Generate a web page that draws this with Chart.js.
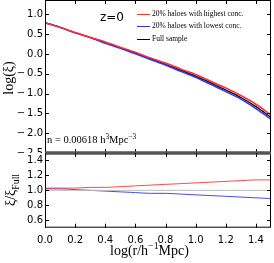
<!DOCTYPE html>
<html>
<head>
<meta charset="utf-8">
<script src="https://cdn.jsdelivr.net/npm/chart.js@4.4.1/dist/chart.umd.min.js"></script>
<style>
  body { margin: 0; background: #fff; }
  #wrap { position: relative; width: 274px; height: 263px; overflow: hidden; }
  canvas { position: absolute; left: 0; }
  .txt { position: absolute; white-space: nowrap; font-family: 'Liberation Serif', 'Times New Roman', serif; color: #000; line-height: 1; }
  .leg { position: absolute; font-family: 'Liberation Serif', serif; font-size: 7.5px; white-space: nowrap; line-height: 1; }
  .leg i { display: inline-block; width: 13px; height: 0; border-top: 1.5px solid; vertical-align: middle; margin-right: 2px; }
  sup, sub { font-size: 70%; line-height: 0; }
  .rot { transform: rotate(-90deg); transform-origin: center center; }
</style>
</head>
<body>
<div id="wrap">
  <canvas id="top-chart" width="274" height="153" style="top:0"></canvas>
  <canvas id="ratio-chart" width="274" height="113" style="top:150px"></canvas>

  <div class="txt" style="left:100px;top:11px;font-family:'DejaVu Sans',sans-serif;font-size:12px;">z=0</div>
  <div class="leg" style="left:137px;top:10px;"><i style="color:#ff3030"></i>20% haloes with highest conc.</div>
  <div class="leg" style="left:137px;top:22px;"><i style="color:#3030ff"></i>20% haloes with lowest conc.</div>
  <div class="leg" style="left:137px;top:35px;"><i style="color:#000"></i>Full sample</div>
  <div class="txt" style="left:47px;top:135px;font-size:10.5px;">n = 0.00618 h<sup>3</sup>Mpc<sup>−3</sup></div>

  <div class="txt rot" style="left:-11px;top:71px;width:40px;text-align:center;font-size:14px;">log(ξ)</div>
  <div class="txt rot" style="left:-17px;top:183px;width:56px;text-align:center;font-size:14px;">ξ/ξ<sub>Full</sub></div>
  <div class="txt" style="left:110px;top:244px;font-size:14px;">log(r/h<sup>−1</sup>Mpc)</div>
</div>

<script>
// valores
const logR = [0.0, 0.1, 0.2, 0.3, 0.4, 0.5, 0.6, 0.7, 0.8, 0.9, 1.0, 1.1, 1.2, 1.3, 1.4, 1.5];
const xiHigh = [0.79, 0.67, 0.54, 0.42, 0.30, 0.17, 0.04, -0.10, -0.23, -0.38, -0.52, -0.69, -0.86, -1.05, -1.27, -1.54];
const xiLow  = [0.79, 0.67, 0.53, 0.41, 0.27, 0.14, 0.00, -0.14, -0.28, -0.44, -0.59, -0.77, -0.95, -1.14, -1.38, -1.65];
const xiFull = [0.79, 0.67, 0.535, 0.415, 0.285, 0.155, 0.02, -0.12, -0.26, -0.41, -0.56, -0.73, -0.91, -1.10, -1.33, -1.60];
const ratioHigh = [1.03, 1.03, 1.03, 1.04, 1.04, 1.05, 1.06, 1.07, 1.08, 1.09, 1.10, 1.11, 1.12, 1.13, 1.14, 1.14];
const ratioLow  = [1.02, 1.02, 1.01, 1.00, 0.99, 0.98, 0.97, 0.96, 0.96, 0.95, 0.94, 0.93, 0.92, 0.91, 0.90, 0.89];
const ratioFull = [1, 1, 1, 1, 1, 1, 1, 1, 1, 1, 1, 1, 1, 1, 1, 1];

const xTicks = [0.0, 0.2, 0.4, 0.6, 0.8, 1.0, 1.2, 1.4];
const yTicksTop = [-2.5, -2.0, -1.5, -1.0, -0.5, 0.0, 0.5, 1.0];
const yTicksRatio = [0.6, 0.8, 1.0, 1.2, 1.4];

function pts(ys) {
    return logR.map((x, i) => ({ x: x, y: ys[i] }));
}

// sinal de menos largo, como no original
function fmt(v) {
    const s = Math.abs(v).toFixed(1);
    return v < 0 ? '\u2212\u2009' + s : s;
}

// moldura com ticks para dentro
const framePlugin = {
    id: 'frame',
    afterDraw(chart, args, opts) {
        const ctx = chart.ctx;
        const a = chart.chartArea;
        const xs = chart.scales.x, ys = chart.scales.y;
        ctx.save();
        ctx.strokeStyle = '#000';
        ctx.lineWidth = 1;
        ctx.strokeRect(a.left + 0.5, a.top + 0.5, a.right - a.left - 1, a.bottom - a.top - 1);
        if (opts.thick) {
            ctx.strokeStyle = '#555';
            ctx.lineWidth = 3.5;
            ctx.beginPath();
            ctx.moveTo(a.left, a.top);
            ctx.lineTo(a.right, a.top);
            ctx.stroke();
        }
        ctx.strokeStyle = '#000';
        ctx.lineWidth = 1;
        ctx.beginPath();
        xTicks.forEach(v => {
            const px = Math.round(xs.getPixelForValue(v)) + 0.5;
            ctx.moveTo(px, a.bottom); ctx.lineTo(px, a.bottom - 4);
            ctx.moveTo(px, a.top); ctx.lineTo(px, a.top + 4);
        });
        opts.yTicks.forEach(v => {
            const py = Math.round(ys.getPixelForValue(v)) + 0.5;
            ctx.moveTo(a.left, py); ctx.lineTo(a.left + 4, py);
            ctx.moveTo(a.right, py); ctx.lineTo(a.right - 4, py);
        });
        ctx.stroke();
        ctx.restore();
    }
};

const tickFont = { family: 'DejaVu Sans', size: 10 };

function noPad(s) {
    s.paddingTop = 0; s.paddingBottom = 0; s.paddingLeft = 0; s.paddingRight = 0;
}

function baseOptions() {
    return {
        responsive: false,
        animation: false,
        events: [],
        plugins: { legend: { display: false }, tooltip: { enabled: false } },
        elements: { point: { radius: 0 }, line: { cubicInterpolationMode: 'monotone' } }
    };
}

// painel de cima
const optTop = baseOptions();
optTop.layout = { padding: { top: 0, right: 3, left: 0, bottom: 0 } };
optTop.plugins.frame = { yTicks: yTicksTop, thick: false };
optTop.scales = {
    x: { type: 'linear', min: 0, max: 1.5, display: false },
    y: {
        min: -2.5, max: 1.36,
        afterFit(s) { s.width = 45; noPad(s); },
        afterBuildTicks(s) { s.ticks = yTicksTop.map(v => ({ value: v })); },
        grid: { display: false, drawTicks: false },
        border: { display: false },
        ticks: { font: tickFont, color: '#000', padding: 2, callback: v => fmt(v) }
    }
};

new Chart(document.getElementById('top-chart').getContext('2d'), {
    type: 'line',
    data: {
        datasets: [
            { label: '20% haloes with highest conc.', data: pts(xiHigh), borderColor: '#ff3030', borderWidth: 1.5 },
            { label: '20% haloes with lowest conc.', data: pts(xiLow), borderColor: '#3030ff', borderWidth: 1.5 },
            { label: 'Full sample', data: pts(xiFull), borderColor: '#000', borderWidth: 1.2 }
        ]
    },
    options: optTop,
    plugins: [framePlugin]
});

// painel da razao
const optRatio = baseOptions();
optRatio.layout = { padding: { top: 3, right: 3, left: 0, bottom: 0 } };
optRatio.plugins.frame = { yTicks: yTicksRatio, thick: true };
optRatio.scales = {
    x: {
        type: 'linear', min: 0, max: 1.5,
        afterFit(s) { s.height = 35.3; noPad(s); },
        afterBuildTicks(s) { s.ticks = xTicks.map(v => ({ value: v })); },
        grid: { display: false, drawTicks: false },
        border: { display: false },
        ticks: { font: tickFont, color: '#000', padding: 7, maxRotation: 0, callback: v => fmt(v) }
    },
    y: {
        min: 0.5, max: 1.5,
        afterFit(s) { s.width = 45; noPad(s); },
        afterBuildTicks(s) { s.ticks = yTicksRatio.map(v => ({ value: v })); },
        grid: { display: false, drawTicks: false },
        border: { display: false },
        ticks: { font: tickFont, color: '#000', padding: 2, callback: v => fmt(v) }
    }
};

new Chart(document.getElementById('ratio-chart').getContext('2d'), {
    type: 'line',
    data: {
        datasets: [
            { label: 'full', data: pts(ratioFull), borderColor: '#bbbbbb', borderWidth: 1 },
            { label: 'high', data: pts(ratioHigh), borderColor: 'rgba(255,40,40,0.85)', borderWidth: 1 },
            { label: 'low', data: pts(ratioLow), borderColor: 'rgba(40,40,255,0.85)', borderWidth: 1 }
        ]
    },
    options: optRatio,
    plugins: [framePlugin]
});
</script>
</body>
</html>
